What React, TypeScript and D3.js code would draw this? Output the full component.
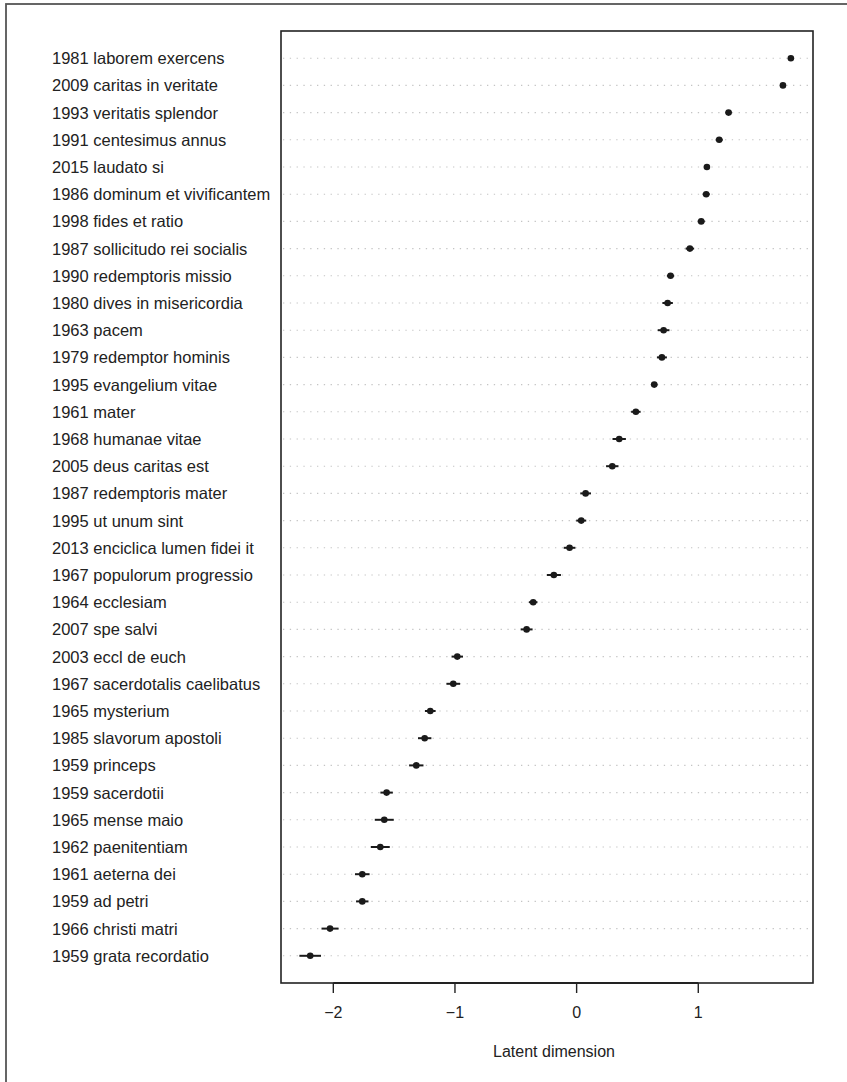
import React from "react";
import * as d3 from "d3";

const labels: string[] = [
  "1981 laborem exercens",
  "2009 caritas in veritate",
  "1993 veritatis splendor",
  "1991 centesimus annus",
  "2015 laudato si",
  "1986 dominum et vivificantem",
  "1998 fides et ratio",
  "1987 sollicitudo rei socialis",
  "1990 redemptoris missio",
  "1980 dives in misericordia",
  "1963 pacem",
  "1979 redemptor hominis",
  "1995 evangelium vitae",
  "1961 mater",
  "1968 humanae vitae",
  "2005 deus caritas est",
  "1987 redemptoris mater",
  "1995 ut unum sint",
  "2013 enciclica lumen fidei it",
  "1967 populorum progressio",
  "1964 ecclesiam",
  "2007 spe salvi",
  "2003 eccl de euch",
  "1967 sacerdotalis caelibatus",
  "1965 mysterium",
  "1985 slavorum apostoli",
  "1959 princeps",
  "1959 sacerdotii",
  "1965 mense maio",
  "1962 paenitentiam",
  "1961 aeterna dei",
  "1959 ad petri",
  "1966 christi matri",
  "1959 grata recordatio",
];

const estimates: number[] = [
  1.761, 1.696, 1.249, 1.172, 1.071, 1.065, 1.024, 0.931, 0.772, 0.748,
  0.715, 0.701, 0.638, 0.487, 0.35, 0.293, 0.074, 0.038, -0.058, -0.187,
  -0.357, -0.411, -0.981, -1.014, -1.203, -1.249, -1.318, -1.562, -1.581,
  -1.614, -1.762, -1.762, -2.027, -2.19,
];

const halfWidths: number[] = [
  0.016, 0.016, 0.025, 0.029, 0.025, 0.029, 0.029, 0.035, 0.03, 0.043,
  0.048, 0.041, 0.026, 0.039, 0.055, 0.051, 0.044, 0.041, 0.048, 0.058,
  0.035, 0.049, 0.047, 0.056, 0.044, 0.055, 0.059, 0.051, 0.078, 0.078,
  0.06, 0.051, 0.07, 0.089,
];

const xTicks: number[] = [-2, -1, 0, 1];
const xTitle = "Latent dimension";

const FONT = "'Liberation Sans', Arial, Helvetica, sans-serif";

export default function App() {
  const W = 847;
  const H = 1082;
  const box = { left: 281, right: 813, top: 31, bottom: 983 };
  const x = d3.scaleLinear().domain([-2.43, 1.943]).range([box.left, box.right]);
  const n = labels.length;
  const y = d3.scaleLinear().domain([0, n + 1]).range([box.top, box.bottom]);
  const rowY = (i: number) => y(i + 1);

  return (
    <div style={{ position: "absolute", left: 0, top: 0 }}>
      <svg width={W} height={H} style={{ display: "block", background: "#fff" }}>
        {/* outer frame (partially cropped) */}
        <rect x={6} y={4} width={W + 20} height={H + 20} fill="none" stroke="#555" strokeWidth={1.8} />
        {/* grid lines */}
        {labels.map((_, i) => (
          <line
            key={"g" + i}
            x1={box.left + 2}
            x2={box.right - 2}
            y1={rowY(i)}
            y2={rowY(i)}
            stroke="#c4c4c4"
            strokeWidth={1.1}
            strokeDasharray="1.3 5.5"
          />
        ))}
        {/* row labels */}
        {labels.map((l, i) => (
          <text
            key={"l" + i}
            x={52}
            y={rowY(i)}
            dominantBaseline="central"
            fontFamily={FONT}
            fontSize={16.5}
            fill="#222"
          >
            {l}
          </text>
        ))}
        {/* error bars */}
        {estimates.map((v, i) => (
          <line
            key={"e" + i}
            x1={x(v - halfWidths[i])}
            x2={x(v + halfWidths[i])}
            y1={rowY(i)}
            y2={rowY(i)}
            stroke="#1a1a1a"
            strokeWidth={2}
          />
        ))}
        {/* points */}
        {estimates.map((v, i) => (
          <circle key={"p" + i} cx={x(v)} cy={rowY(i)} r={3.3} fill="#1a1a1a" />
        ))}
        {/* box */}
        <rect
          x={box.left}
          y={box.top}
          width={box.right - box.left}
          height={box.bottom - box.top}
          fill="none"
          stroke="#222"
          strokeWidth={1.6}
        />
        {/* x axis */}
        <line x1={x(xTicks[0])} x2={x(xTicks[xTicks.length - 1])} y1={box.bottom} y2={box.bottom} stroke="#222" strokeWidth={2} />
        {xTicks.map((t) => (
          <g key={"t" + t}>
            <line x1={x(t)} x2={x(t)} y1={box.bottom} y2={box.bottom + 10} stroke="#222" strokeWidth={1.4} />
            <text
              x={x(t)}
              y={1012}
              textAnchor="middle"
              dominantBaseline="central"
              fontFamily={FONT}
              fontSize={16}
              fill="#222"
            >
              {t < 0 ? "\u2212" + Math.abs(t) : String(t)}
            </text>
          </g>
        ))}
        <text
          x={554}
          y={1051}
          textAnchor="middle"
          dominantBaseline="central"
          fontFamily={FONT}
          fontSize={16}
          fill="#222"
        >
          {xTitle}
        </text>
      </svg>
    </div>
  );
}
